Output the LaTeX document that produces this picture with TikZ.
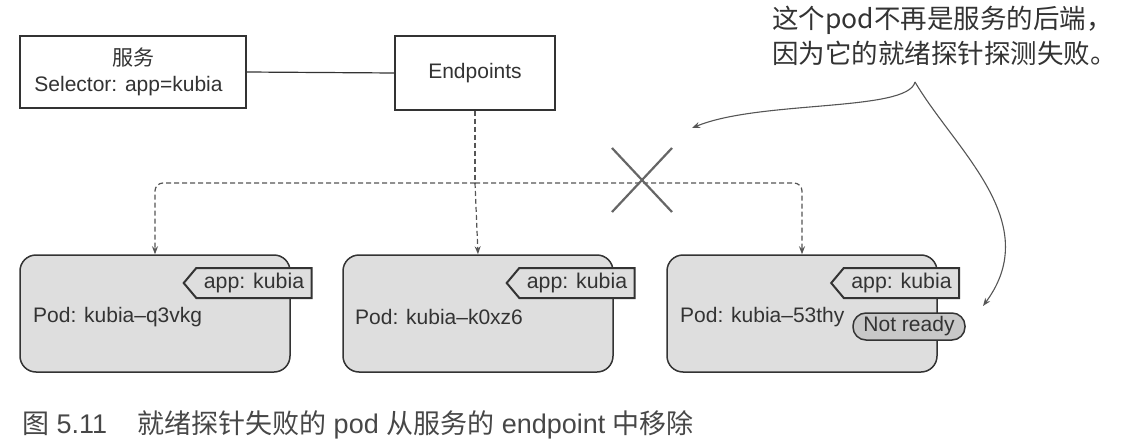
\documentclass[tikz,border=0pt]{standalone}
\usepackage{fontspec}
\setmainfont{Liberation Sans}
\newfontfamily\cjk{Noto Sans CJK SC}
\usetikzlibrary{shapes.symbols,arrows.meta}
\definecolor{ink}{HTML}{333333}
\definecolor{podfill}{HTML}{DEDEDE}
\definecolor{nrfill}{HTML}{C8C8C8}
\definecolor{linegray}{HTML}{555555}
\tikzset{
  box/.style={draw=ink, line width=1.2pt, fill=white, text=ink, align=center, inner sep=0pt},
  pod/.style={draw=ink, line width=1.5pt, fill=podfill, rounded corners=16pt, minimum width=270pt, minimum height=117pt, inner sep=0pt},
  podtext/.style={text=ink, anchor=west, inner sep=0pt, font=\fontsize{21}{25}\selectfont},
  tag/.style={shape=signal, signal to=west, signal pointer angle=100, draw=ink, line width=2pt, fill=podfill, text=ink, minimum width=128pt, minimum height=30pt, inner xsep=4pt, inner ysep=0pt, font=\fontsize{21.3}{25}\selectfont},
  notready/.style={draw=ink, line width=1.5pt, fill=nrfill, rounded corners=13pt, minimum width=112pt, minimum height=27pt, inner sep=0pt, text=ink, font=\fontsize{21}{25}\selectfont},
  dashline/.style={draw=linegray, line width=1.2pt, dash pattern=on 5pt off 3pt},
  tip/.style={-{Stealth[length=8pt,width=6pt]}},
  note/.style={draw=linegray, line width=1.1pt}
}
\begin{document}
\begin{tikzpicture}[x=1pt,y=-1pt]
\useasboundingbox (0,0) rectangle (1125,447);
% top boxes
\node[box, minimum width=226pt, minimum height=72pt] (svc) at (133,72) {};
\node[text=ink, inner sep=0pt, font=\fontsize{21}{25}\selectfont] (svct) at (133,58) {\cjk 服务};
\node[text=ink, inner sep=0pt, font=\fontsize{21}{25}\selectfont] (svcs) at (128.5,86) {Selector: app=kubia};
\node[box, minimum width=160pt, minimum height=74pt, font=\fontsize{21}{25}\selectfont] (ep) at (475,73) {Endpoints};
\draw[draw=ink, line width=1.2pt] (svc.east) -- (ep.west);
% pods
\node[pod] (p1) at (155,313.5) {};
\node[pod] (p2) at (478,313.5) {};
\node[pod] (p3) at (802,313.5) {};
\node[podtext] (l1) at (33,317) {Pod: kubia–q3vkg};
\node[podtext] (l2) at (355,317) {Pod: kubia–k0xz6};
\node[podtext] (l3) at (680,317) {Pod: kubia–53thy};
\node[tag] (t1) at (254,283) {app: kubia};
\node[tag] (t2) at (577,283) {app: kubia};
\node[tag] (t3) at (901.5,283) {app: kubia};
\node[notready] (nr) at (909,326.5) {Not ready};
% dashed connectors
\coordinate (j) at (ep.south |- 0,183);
\draw[dashline] (ep.south) -- (j);
\draw[dashline, tip, rounded corners=8pt] (j) -| (p1.north);
\draw[dashline, tip] (j) -- (p2.north);
\draw[dashline, tip, rounded corners=8pt] (j) -| (p3.north);
% cross
\draw[draw=linegray!90, line width=2.2pt] (612,148) -- (672,212);
\draw[draw=linegray!90, line width=2.2pt] (612,212) -- (672,148);
% annotation
\node[anchor=north west, align=left, text=ink, inner sep=0pt, font=\fontsize{26.5}{35}\selectfont\cjk] (ann) at (772,6) {这个pod不再是服务的后端，\\因为它的就绪探针探测失败。};
\coordinate (cusp) at (915,82);
\coordinate (lt) at (692,128);
\coordinate (rt) at (983,306);
\draw[note, tip] (cusp) .. controls (908,112) and (760,100) .. (lt);
\draw[note, tip] (cusp) .. controls (955,150) and (1045,222) .. (rt);
% caption
\node[anchor=west, text=ink!90, inner sep=0pt, font=\fontsize{27}{31}\selectfont] (cap) at (22,425) {{\cjk 图} 5.11\hspace{30pt}{\cjk 就绪探针失败的} pod {\cjk 从服务的} endpoint {\cjk 中移除}};
\end{tikzpicture}
\end{document}
